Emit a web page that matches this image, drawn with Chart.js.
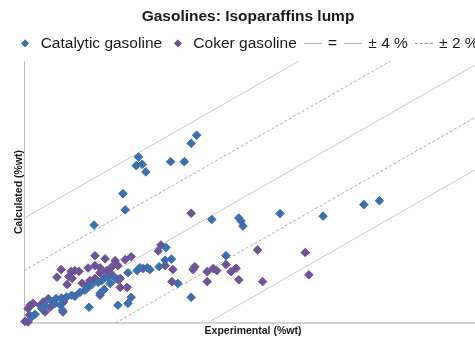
<!DOCTYPE html>
<html>
<head>
<meta charset="utf-8">
<title>Gasolines: Isoparaffins lump</title>
<script src="https://cdn.jsdelivr.net/npm/chart.js@4.4.1/dist/chart.umd.min.js"></script>
<style>
  html, body { margin: 0; padding: 0; background: #fff; overflow: hidden; }
  #wrap { width: 496px; height: 338px; }
</style>
</head>
<body>
<div id="wrap"><canvas id="myChart"></canvas></div>
<script>
// measured vs. model values (%wt)
const catalyticX = [2.50, 2.45, 2.58, 2.66, 3.20, 3.50, 3.65, 3.77, 2.16, 2.21, 1.53, 4.10, 3.10, 3.22, 3.08, 4.41,
    4.69, 4.74, 4.78, 5.59, 6.53, 7.42, 7.76, 2.27, 2.47, 2.53, 2.69, 2.75, 2.95, 3.36, 3.65, 2.05, 2.27, 2.34, 1.42,
    1.88, 1.99, 1.83, 0.17, 0.24, 0.39, 0.46, 0.60, 0.70, 0.82, 0.93, 1.04, 1.11, 1.22, 1.33, 1.40, 1.48, 0.84, 0.80,
    1.62, 1.70, 0.68, 1.75, 1.66];
const catalyticY = [6.34, 6.01, 6.06, 5.77, 6.16, 6.16, 6.86, 7.17, 4.94, 4.32, 3.74, 3.95, 2.88, 2.44, 2.40, 2.57,
    4.01, 3.89, 3.70, 4.18, 4.08, 4.52, 4.67, 1.92, 2.00, 2.11, 2.11, 2.04, 2.15, 1.51, 0.98, 0.68, 0.75, 0.98, 0.60,
    1.51, 1.70, 1.74, 0.24, 0.33, 0.55, 0.68, 0.83, 0.93, 0.95, 0.99, 1.06, 1.02, 1.17, 1.25, 1.36, 1.47, 0.49, 0.68,
    1.55, 1.62, 0.75, 1.28, 1.13];

const cokerX = [3.65, 2.99, 2.93, 1.55, 1.77, 1.99, 2.21, 2.34, 5.10, 6.14, 4.41, 4.63, 4.52, 4.69, 5.21, 6.22,
    0.81, 1.03, 1.11, 1.20, 1.40, 1.55, 1.66, 0.72, 1.05, 1.27, 0.94, 2.60, 3.08, 3.25, 3.73, 3.69, 4.00, 4.13, 4.21,
    3.23, 4.00, 2.25, 2.10, 2.05, 1.66, 1.77, 1.88, 1.55, 1.44, 1.92, 2.05, 0.53, 0.42, 0.35, 0.09, 0.12, 0.02, 0.09,
    0.86, 0.98, 0.13, 0.20, 0.41, 0.46, 0.57, 0.83, 0.85, 1.38, 1.44, 1.66, 1.81, 1.94, 2.10];
const cokerY = [4.19, 2.98, 2.75, 2.57, 2.45, 2.38, 2.42, 2.53, 2.79, 2.69, 2.23, 2.09, 1.96, 1.65, 1.58, 1.84,
    2.04, 1.97, 2.00, 1.97, 2.10, 2.19, 2.11, 1.75, 1.70, 1.52, 1.47, 2.08, 2.19, 2.04, 2.15, 2.04, 1.96, 2.08, 2.00,
    1.58, 1.58, 1.36, 1.36, 1.66, 1.06, 1.74, 1.89, 1.70, 1.51, 2.15, 2.19, 0.93, 0.80, 0.68, 0.55, 0.30, 0.06, 0.04,
    0.80, 1.78, 0.68, 0.75, 0.57, 0.42, 0.60, 0.75, 0.42, 1.36, 1.62, 1.92, 2.00, 1.81, 1.70];

// reference lines y = x + offset
const refLabels = ['=', '± 4 %', '± 2 %'];
const refOffsets = [[0], [4, -4], [2, -2]];
const refDashed = [false, false, true];

const axisMax = 10;

const fontFamily = '"Liberation Sans", Arial, sans-serif';
const textColor = '#1a1a1a';

function toPoints(xs, ys) {
    return xs.map((x, i) => ({ x: x, y: ys[i] }));
}

// one dataset per label, segments split by a null point
function refLine(offsets) {
    const pts = [];
    offsets.forEach((d, i) => {
        if (i > 0) pts.push({ x: 0, y: null });
        pts.push({ x: Math.max(0, -d), y: Math.max(0, d) });
        pts.push({ x: Math.min(axisMax, axisMax - d), y: Math.min(axisMax, axisMax + d) });
    });
    return pts;
}

// small line swatch for the legend
function lineSwatch(color, dash) {
    const c = document.createElement('canvas');
    c.width = 18;
    c.height = 3;
    const g = c.getContext('2d');
    g.strokeStyle = color;
    g.lineWidth = 1;
    g.setLineDash(dash);
    g.beginPath();
    g.moveTo(0, 1.5);
    g.lineTo(18, 1.5);
    g.stroke();
    return c;
}

const datasets = [
    {
        label: 'Catalytic gasoline',
        data: toPoints(catalyticX, catalyticY),
        pointStyle: 'rectRot',
        pointRadius: 4.3,
        backgroundColor: '#3d6fad',
        borderColor: '#3d6fad',
        borderWidth: 1,
        clip: false
    },
    {
        label: 'Coker gasoline',
        data: toPoints(cokerX, cokerY),
        pointStyle: 'rectRot',
        pointRadius: 4.3,
        backgroundColor: '#6f5396',
        borderColor: '#6f5396',
        borderWidth: 1,
        clip: false
    }
];

refLabels.forEach((label, i) => {
    const color = refDashed[i] ? '#acacac' : '#c8c8c8';
    const dash = refDashed[i] ? [3, 2] : [];
    datasets.push({
        label: label,
        data: refLine(refOffsets[i]),
        showLine: true,
        spanGaps: false,
        borderColor: color,
        backgroundColor: color,
        borderWidth: 1,
        borderDash: dash,
        pointRadius: 0,
        pointHoverRadius: 0,
        pointStyle: lineSwatch(refDashed[i] ? '#8c8c8c' : '#b0b0b0', dash)
    });
});

const ctx = document.getElementById('myChart').getContext('2d');
const myChart = new Chart(ctx, {
    type: 'scatter',
    data: { datasets: datasets },
    options: {
        responsive: true,
        maintainAspectRatio: false,
        animation: false,
        layout: { padding: 0 },
        plugins: {
            title: {
                display: true,
                text: 'Gasolines: Isoparaffins lump',
                color: textColor,
                font: { family: fontFamily, size: 15.5, weight: 'bold' },
                padding: { top: 7, bottom: 2 }
            },
            legend: {
                position: 'top',
                labels: {
                    usePointStyle: true,
                    boxHeight: 5,
                    padding: 8,
                    color: textColor,
                    font: { family: fontFamily, size: 15.5 }
                }
            },
            tooltip: { enabled: false }
        },
        scales: {
            x: {
                type: 'linear',
                min: 0,
                max: axisMax,
                ticks: { display: false },
                grid: { display: false },
                border: { color: '#d4d4d4', width: 2 },
                title: {
                    display: true,
                    text: 'Experimental (%wt)',
                    color: textColor,
                    font: { family: fontFamily, size: 10.5, weight: 'bold' },
                    padding: { top: 0, bottom: 1 }
                },
                afterFit: function(scale) { scale.height = 15; }
            },
            y: {
                type: 'linear',
                min: 0,
                max: axisMax,
                ticks: { display: false },
                grid: { display: false },
                border: { color: '#bdbdbd', width: 1 },
                title: {
                    display: true,
                    text: 'Calculated (%wt)',
                    color: textColor,
                    font: { family: fontFamily, size: 10.5, weight: 'bold' },
                    padding: { top: 13, bottom: 0 }
                },
                afterFit: function(scale) { scale.width = 24; }
            },
            // empty right-hand margin so the plot stops short of the edge
            yRight: {
                type: 'linear',
                position: 'right',
                min: 0,
                max: axisMax,
                ticks: { display: false },
                grid: { display: false },
                border: { display: false },
                afterFit: function(scale) { scale.width = 14; }
            }
        }
    }
});
</script>
</body>
</html>
